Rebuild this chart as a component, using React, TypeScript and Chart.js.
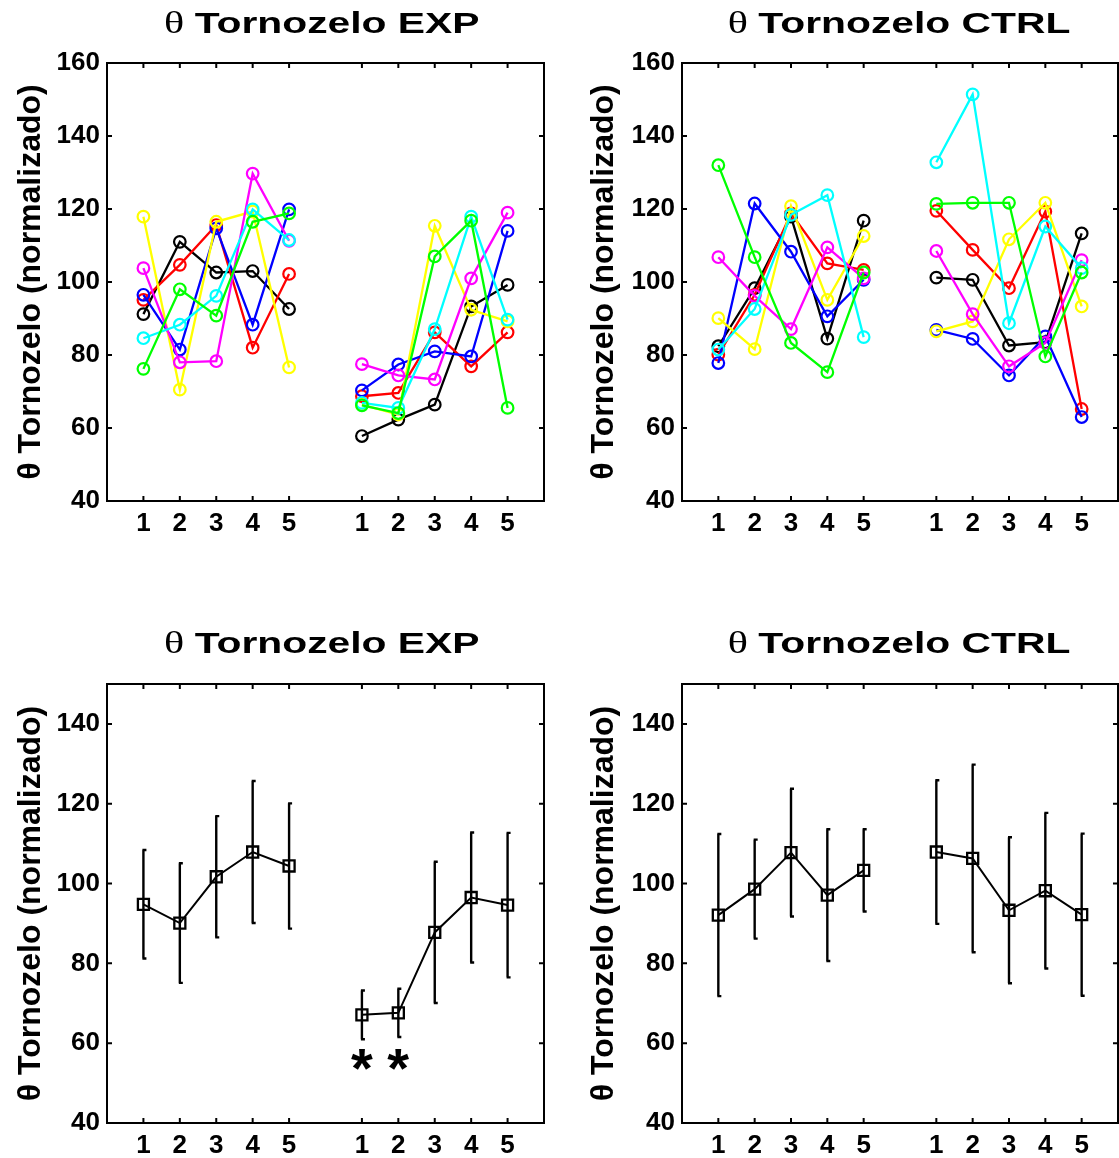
import React, { useEffect, useRef } from "react";
import { Chart, registerables } from "chart.js";

Chart.register(...registerables);

// ---------------- data ----------------
const xPositions = [1, 2, 3, 4, 5, 7, 8, 9, 10, 11];
const xTickLabels = ["1", "2", "3", "4", "5", "1", "2", "3", "4", "5"];
const yTicksTop = [40, 60, 80, 100, 120, 140, 160];
const yTicksBottom = [40, 60, 80, 100, 120, 140];

const thetaSymbol = "θ";
const panelTitles = ["Tornozelo EXP", "Tornozelo CTRL", "Tornozelo EXP", "Tornozelo CTRL"];
const yAxisTitle = "θ Tornozelo (normalizado)";

const seriesNames = ["black", "red", "blue", "yellow", "magenta", "cyan", "green"];
const seriesColors = ["#000000", "#ff0000", "#0000ff", "#ffff00", "#ff00ff", "#00ffff", "#00ff00"];

// EXP individual subjects (5 pre + 5 post)
const expBlack = [91.2, 111.0, 102.6, 103.0, 92.6, 57.8, 62.3, 66.4, 93.3, 99.2];
const expRed = [95.1, 104.7, 115.6, 82.0, 102.2, 68.7, 69.6, 86.2, 76.9, 86.2];
const expBlue = [96.5, 81.5, 114.7, 88.3, 119.9, 70.3, 77.4, 81.0, 79.6, 114.0];
const expYellow = [117.9, 70.5, 116.5, 119.3, 76.6, 66.4, 63.7, 115.4, 92.4, 89.2];
const expMagenta = [103.8, 78.0, 78.3, 129.7, 111.3, 77.5, 74.4, 73.3, 101.0, 119.0];
const expCyan = [84.6, 88.3, 96.2, 119.9, 111.5, 66.9, 65.5, 87.1, 117.9, 89.7];
const expGreen = [76.2, 98.0, 90.8, 116.5, 118.8, 66.2, 64.1, 107.0, 116.8, 65.5];

// CTRL individual subjects
const ctrlBlack = [82.4, 98.3, 117.9, 84.5, 116.8, 101.2, 100.6, 82.6, 83.5, 113.3];
const ctrlRed = [80.1, 96.5, 118.8, 105.1, 103.3, 119.5, 108.8, 98.3, 119.3, 65.2];
const ctrlBlue = [77.8, 121.5, 108.3, 90.6, 100.6, 86.9, 84.4, 74.4, 85.1, 63.0];
const ctrlYellow = [90.1, 81.6, 120.8, 95.1, 112.6, 86.5, 89.2, 111.7, 121.7, 93.3];
const ctrlMagenta = [106.8, 96.2, 87.1, 109.5, 101.0, 108.5, 91.2, 76.9, 83.3, 106.0];
const ctrlCyan = [81.5, 92.6, 118.4, 123.8, 84.9, 132.8, 151.4, 88.7, 115.2, 103.8];
const ctrlGreen = [132.0, 106.8, 83.3, 75.3, 102.6, 121.4, 121.7, 121.7, 79.6, 102.6];

const expSeries = [expBlack, expRed, expBlue, expYellow, expMagenta, expCyan, expGreen];
const ctrlSeries = [ctrlBlack, ctrlRed, ctrlBlue, ctrlYellow, ctrlMagenta, ctrlCyan, ctrlGreen];

// group means and error bars
const expMean = [94.8, 90.1, 101.7, 107.9, 104.4, 67.1, 67.6, 87.75, 96.5, 94.6];
const expSD = [13.6, 15.0, 15.2, 17.8, 15.7, 6.1, 6.05, 17.7, 16.3, 18.1];
const ctrlMean = [92.1, 98.6, 107.75, 97.1, 103.3, 107.9, 106.3, 93.3, 98.2, 92.2];
const ctrlSD = [20.3, 12.4, 16.0, 16.5, 10.3, 18.0, 23.5, 18.3, 19.5, 20.3];

const expSignificantX = [7, 8];
const asteriskLevel = 55.8;

// ---------------- layout (page pixels) ----------------
const SANS = '"Liberation Sans", Arial, sans-serif';
const SERIF = '"Liberation Serif", "Times New Roman", serif';

type PanelCfg = {
  left: number; top: number; w: number; h: number;
  area: { left: number; top: number; right: number; bottom: number };
  yMax: number; yTicks: number[];
  title: string; titleCx: number; titleBase: number;
  yTitlePad: number;
  kind: "individual" | "mean";
  series?: number[][];
  mean?: number[]; sd?: number[];
  stars?: number[];
};

const panels: PanelCfg[] = [
  {
    left: 0, top: 0, w: 560, h: 580,
    area: { left: 107, top: 63, right: 544, bottom: 501 },
    yMax: 160, yTicks: yTicksTop,
    title: panelTitles[0], titleCx: 321.7, titleBase: 33.3, yTitlePad: 15,
    kind: "individual", series: expSeries,
  },
  {
    left: 560, top: 0, w: 559, h: 580,
    area: { left: 122, top: 63, right: 558, bottom: 501 },
    yMax: 160, yTicks: yTicksTop,
    title: panelTitles[1], titleCx: 339, titleBase: 33.3, yTitlePad: 28,
    kind: "individual", series: ctrlSeries,
  },
  {
    left: 0, top: 580, w: 560, h: 578,
    area: { left: 107, top: 104, right: 544, bottom: 543 },
    yMax: 150, yTicks: yTicksBottom,
    title: panelTitles[2], titleCx: 321.7, titleBase: 73.3, yTitlePad: 15,
    kind: "mean", mean: expMean, sd: expSD, stars: expSignificantX,
  },
  {
    left: 560, top: 580, w: 559, h: 578,
    area: { left: 122, top: 104, right: 558, bottom: 543 },
    yMax: 150, yTicks: yTicksBottom,
    title: panelTitles[3], titleCx: 339, titleBase: 73.3, yTitlePad: 28,
    kind: "mean", mean: ctrlMean, sd: ctrlSD,
  },
];

function toPoints(vals: number[]) {
  const pts: { x: number; y: number | null }[] = [];
  xPositions.forEach((x, i) => {
    if (i === 5) pts.push({ x: 6, y: null });
    pts.push({ x, y: vals[i] });
  });
  return pts;
}

function buildConfig(p: PanelCfg): any {
  let datasets: any[] = [];
  if (p.kind === "individual" && p.series) {
    const n = p.series.length;
    datasets = p.series.map((vals, i) => ({
      label: seriesNames[i],
      data: toPoints(vals),
      borderColor: seriesColors[i],
      borderWidth: 2.3,
      pointStyle: "circle",
      pointRadius: 5.8,
      pointBorderWidth: 2.2,
      pointBorderColor: seriesColors[i],
      pointBackgroundColor: "rgba(0,0,0,0)",
      tension: 0,
      spanGaps: false,
      fill: false,
      order: n - 1 - i,
    }));
  } else if (p.mean) {
    datasets = [
      {
        label: "mean",
        data: toPoints(p.mean),
        borderColor: "#000",
        borderWidth: 2,
        pointStyle: "rect",
        pointRadius: 7.8,
        pointBorderWidth: 2.3,
        pointBorderColor: "#000",
        pointBackgroundColor: "rgba(0,0,0,0)",
        tension: 0,
        spanGaps: false,
        fill: false,
      },
    ];
  }

  const decor = {
    id: "panelDecor",
    beforeDatasetsDraw(chart: any) {
      if (p.kind !== "mean" || !p.mean || !p.sd) return;
      const xs = chart.scales.x;
      const ys = chart.scales.y;
      const ctx = chart.ctx;
      ctx.save();
      ctx.strokeStyle = "#000";
      ctx.lineWidth = 2.4;
      xPositions.forEach((xv, i) => {
        const px = xs.getPixelForValue(xv);
        const hi = ys.getPixelForValue(p.mean![i] + p.sd![i]);
        const lo = ys.getPixelForValue(p.mean![i] - p.sd![i]);
        ctx.beginPath();
        ctx.moveTo(px, hi);
        ctx.lineTo(px, lo);
        ctx.moveTo(px - 1, hi);
        ctx.lineTo(px + 3, hi);
        ctx.moveTo(px - 1, lo);
        ctx.lineTo(px + 3, lo);
        ctx.stroke();
      });
      ctx.restore();
    },
    afterDraw(chart: any) {
      const ctx = chart.ctx;
      const a = chart.chartArea;
      const xs = chart.scales.x;
      const ys = chart.scales.y;
      ctx.save();
      // frame
      ctx.strokeStyle = "#000";
      ctx.lineWidth = 2;
      ctx.strokeRect(a.left, a.top, a.right - a.left, a.bottom - a.top);
      // inward ticks on all four sides
      const tl = 5;
      ctx.beginPath();
      xPositions.forEach((xv) => {
        const px = xs.getPixelForValue(xv);
        ctx.moveTo(px, a.bottom);
        ctx.lineTo(px, a.bottom - tl);
        ctx.moveTo(px, a.top);
        ctx.lineTo(px, a.top + tl);
      });
      p.yTicks.forEach((yv) => {
        const py = ys.getPixelForValue(yv);
        ctx.moveTo(a.left, py);
        ctx.lineTo(a.left + tl, py);
        ctx.moveTo(a.right, py);
        ctx.lineTo(a.right - tl, py);
      });
      ctx.stroke();

      // title: θ (serif) + bold sans text, horizontally widened
      const sx = 1.36;
      ctx.fillStyle = "#000";
      ctx.textBaseline = "alphabetic";
      ctx.textAlign = "left";
      const fTheta = `normal 31px ${SERIF}`;
      const fText = `bold 30px ${SANS}`;
      ctx.font = fTheta;
      const wTh = ctx.measureText(thetaSymbol + " ").width;
      ctx.font = fText;
      const wTxt = ctx.measureText(p.title).width;
      const total = (wTh + wTxt) * sx;
      ctx.translate(p.titleCx - total / 2, p.titleBase);
      ctx.scale(sx, 1);
      ctx.font = fTheta;
      ctx.fillText(thetaSymbol, 0, 0);
      ctx.font = fText;
      ctx.fillText(p.title, wTh, 0);
      ctx.restore();

      // significance asterisks
      if (p.stars) {
        ctx.save();
        ctx.fillStyle = "#000";
        ctx.font = `bold 56px ${SANS}`;
        ctx.textAlign = "left";
        ctx.textBaseline = "alphabetic";
        const m = ctx.measureText("*");
        p.stars.forEach((xv) => {
          const cx = xs.getPixelForValue(xv);
          const cy = ys.getPixelForValue(asteriskLevel);
          const gx = cx - (m.actualBoundingBoxRight - m.actualBoundingBoxLeft) / 2 + m.actualBoundingBoxLeft;
          const gy = cy + (m.actualBoundingBoxAscent - m.actualBoundingBoxDescent) / 2;
          ctx.fillText("*", gx, gy);
        });
        ctx.restore();
      }
    },
  };

  return {
    type: "line",
    data: { datasets },
    plugins: [decor],
    options: {
      animation: false,
      responsive: false,
      devicePixelRatio: 1,
      events: [],
      layout: {
        autoPadding: false,
        padding: { left: 0, top: p.area.top, right: p.w - p.area.right, bottom: 0 },
      },
      plugins: {
        legend: { display: false },
        title: { display: false },
        tooltip: { enabled: false },
      },
      scales: {
        x: {
          type: "linear",
          min: 0,
          max: 12,
          afterFit: (s: any) => {
            s.height = p.h - p.area.bottom;
          },
          afterBuildTicks: (s: any) => {
            s.ticks = xPositions.map((v) => ({ value: v }));
          },
          grid: { display: false, drawTicks: false },
          border: { display: false },
          ticks: {
            autoSkip: false,
            maxRotation: 0,
            minRotation: 0,
            padding: 10,
            color: "#000",
            font: { family: SANS, size: 26, weight: "bold", lineHeight: 1 },
            callback: (_v: any, i: number) => xTickLabels[i],
          },
        },
        y: {
          type: "linear",
          min: 40,
          max: p.yMax,
          afterFit: (s: any) => {
            s.width = p.area.left;
          },
          afterBuildTicks: (s: any) => {
            s.ticks = p.yTicks.map((v) => ({ value: v }));
          },
          grid: { display: false, drawTicks: false },
          border: { display: false },
          ticks: {
            padding: 7,
            color: "#000",
            font: { family: SANS, size: 26, weight: "bold", lineHeight: 1 },
            callback: (v: any) => String(v),
          },
          title: {
            display: true,
            text: yAxisTitle,
            color: "#000",
            font: { family: SANS, size: 32, weight: "bold", lineHeight: 1 },
            padding: { top: p.yTitlePad, bottom: 0 },
          },
        },
      },
    },
  };
}

function Panel({ cfg }: { cfg: PanelCfg }) {
  const ref = useRef<HTMLCanvasElement>(null);
  useEffect(() => {
    if (!ref.current) return;
    const chart = new Chart(ref.current, buildConfig(cfg));
    return () => chart.destroy();
  }, [cfg]);
  return (
    <canvas
      ref={ref}
      width={cfg.w}
      height={cfg.h}
      style={{ position: "absolute", left: cfg.left, top: cfg.top, width: cfg.w, height: cfg.h }}
    />
  );
}

export default function App() {
  return (
    <div
      style={{
        position: "absolute",
        left: 0,
        top: 0,
        width: 1119,
        height: 1158,
        background: "#ffffff",
        overflow: "hidden",
      }}
    >
      {panels.map((p, i) => (
        <Panel key={i} cfg={p} />
      ))}
    </div>
  );
}
